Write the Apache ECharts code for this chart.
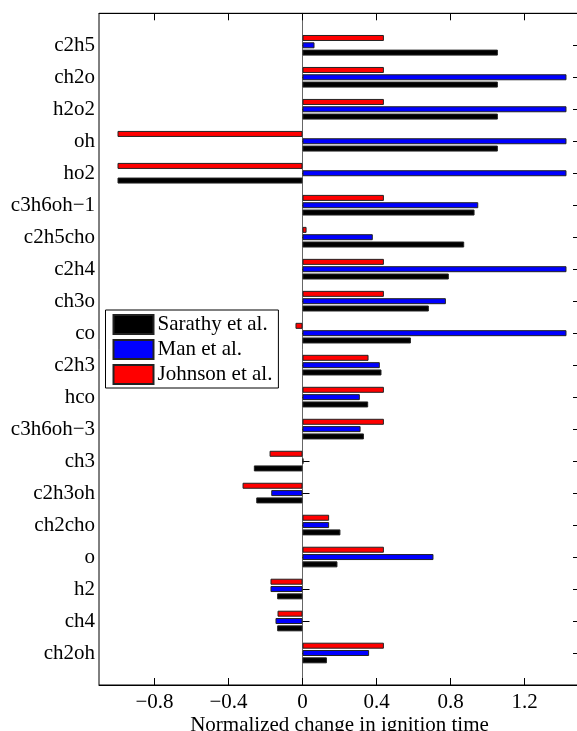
<!DOCTYPE html>
<html>
<head>
<meta charset="utf-8">
<script src="https://cdn.jsdelivr.net/npm/echarts@6/dist/echarts.min.js"></script>
<style>
  html, body { margin: 0; padding: 0; background: #fff; overflow: hidden; }
  #chart { width: 577px; height: 731px; }
</style>
</head>
<body>
<div id="chart"></div>
<script>
// Species, listed top to bottom
const species = ['c2h5', 'ch2o', 'h2o2', 'oh', 'ho2', 'c3h6oh\u22121', 'c2h5cho', 'c2h4', 'ch3o', 'co',
  'c2h3', 'hco', 'c3h6oh\u22123', 'ch3', 'c2h3oh', 'ch2cho', 'o', 'h2', 'ch4', 'ch2oh'];

// Normalized change in ignition time for each mechanism
const sarathy = [1.056, 1.056, 1.056, 1.056, -1.0, 0.93, 0.874, 0.791, 0.683, 0.586,
  0.427, 0.355, 0.332, -0.263, -0.25, 0.205, 0.189, -0.137, -0.137, 0.132];
const man = [0.065, 1.427, 1.427, 1.427, 1.427, 0.95, 0.38, 1.427, 0.775, 1.427,
  0.418, 0.31, 0.314, 0.005, -0.169, 0.144, 0.708, -0.173, -0.146, 0.36];
const johnson = [0.44, 0.44, 0.44, -1.0, -1.0, 0.44, 0.022, 0.44, 0.44, -0.038,
  0.357, 0.44, 0.44, -0.178, -0.324, 0.144, 0.44, -0.173, -0.135, 0.44];

const seriesNames = ['Sarathy et al.', 'Man et al.', 'Johnson et al.'];
const xTicks = [-0.8, -0.4, 0, 0.4, 0.8, 1.2];
const xMin = -1.1, xMax = 1.5;

const FONT = 'Liberation Serif';
const fmt = v => (v < 0 ? '\u2212' + Math.abs(v) : String(v));

const chart = echarts.init(document.getElementById('chart'));

function barSeries(name, data, color) {
  return {
    name: name,
    type: 'bar',
    xAxisIndex: 0,
    yAxisIndex: 0,
    data: data,
    barWidth: 6,
    barGap: '22%',
    itemStyle: { color: color, borderColor: '#222', borderWidth: 1 },
    emphasis: { disabled: true },
    animation: false
  };
}

chart.setOption({
  animation: false,
  grid: [
    // bar area (half a band inset from the frame at top and bottom)
    { left: 99, width: 481, top: 29.3, height: 639.7, containLabel: false, outerBoundsMode: 'none' },
    // outer frame (its right side runs just past the canvas edge)
    { left: 99, width: 481, top: 13.3, height: 671.7, show: true, borderColor: '#000', borderWidth: 1,
      backgroundColor: 'transparent', z: 0, containLabel: false, outerBoundsMode: 'none' }
  ],
  legend: {
    orient: 'vertical',
    left: 105.5,
    top: 310,
    data: seriesNames,
    icon: 'rect',
    itemWidth: 40,
    itemHeight: 19,
    itemGap: 4,
    padding: [4, 6, 3, 7],
    backgroundColor: '#fff',
    borderColor: '#000',
    borderWidth: 1,
    borderRadius: 0,
    selectedMode: false,
    textStyle: { fontFamily: FONT, fontSize: 21, color: '#000', padding: [0, 0, 0, -1] }
  },
  xAxis: [
    { gridIndex: 0, type: 'value', min: xMin, max: xMax, show: false },
    {
      gridIndex: 1, type: 'value', min: xMin, max: xMax, position: 'bottom',
      axisLine: { show: true, onZero: false, lineStyle: { color: '#000', width: 1 } },
      axisTick: { show: true, inside: true, length: 7, customValues: xTicks, lineStyle: { color: '#000' } },
      axisLabel: { show: true, customValues: xTicks, formatter: fmt, margin: 7,
        fontFamily: FONT, fontSize: 21, color: '#000' },
      splitLine: { show: false },
      name: 'Normalized change in ignition time',
      nameLocation: 'middle',
      nameGap: 30,
      nameMoveOverlap: false,
      nameTextStyle: { fontFamily: FONT, fontSize: 21, color: '#000' }
    },
    {
      gridIndex: 1, type: 'value', min: xMin, max: xMax, position: 'top',
      axisLine: { show: true, onZero: false, lineStyle: { color: '#000', width: 1 } },
      axisTick: { show: true, inside: true, length: 7, customValues: xTicks, lineStyle: { color: '#000' } },
      axisLabel: { show: false },
      splitLine: { show: false }
    }
  ],
  yAxis: [
    {
      gridIndex: 0, type: 'category', data: species, inverse: true, position: 'left',
      axisLine: { show: false },
      axisTick: { show: true, inside: true, length: 7, alignWithLabel: true, interval: 0,
        lineStyle: { color: '#000' } },
      axisLabel: { interval: 0, margin: 4, fontFamily: FONT, fontSize: 21, color: '#000' },
      splitLine: { show: false }
    },
    {
      gridIndex: 0, type: 'category', data: species, inverse: true, position: 'right',
      axisLine: { show: false },
      axisTick: { show: true, inside: true, length: 7, alignWithLabel: true, interval: 0,
        lineStyle: { color: '#000' } },
      axisLabel: { show: false },
      splitLine: { show: false }
    },
    {
      // zero baseline across the whole frame
      gridIndex: 1, type: 'value', min: 0, max: 1,
      axisLine: { show: true, onZero: true, lineStyle: { color: '#666', width: 1 } },
      axisTick: { show: false },
      axisLabel: { show: false },
      splitLine: { show: false }
    }
  ],
  series: [
    barSeries(seriesNames[2], johnson, '#ff0000'),
    barSeries(seriesNames[1], man, '#0000ff'),
    barSeries(seriesNames[0], sarathy, '#000000')
  ]
});
</script>
</body>
</html>
